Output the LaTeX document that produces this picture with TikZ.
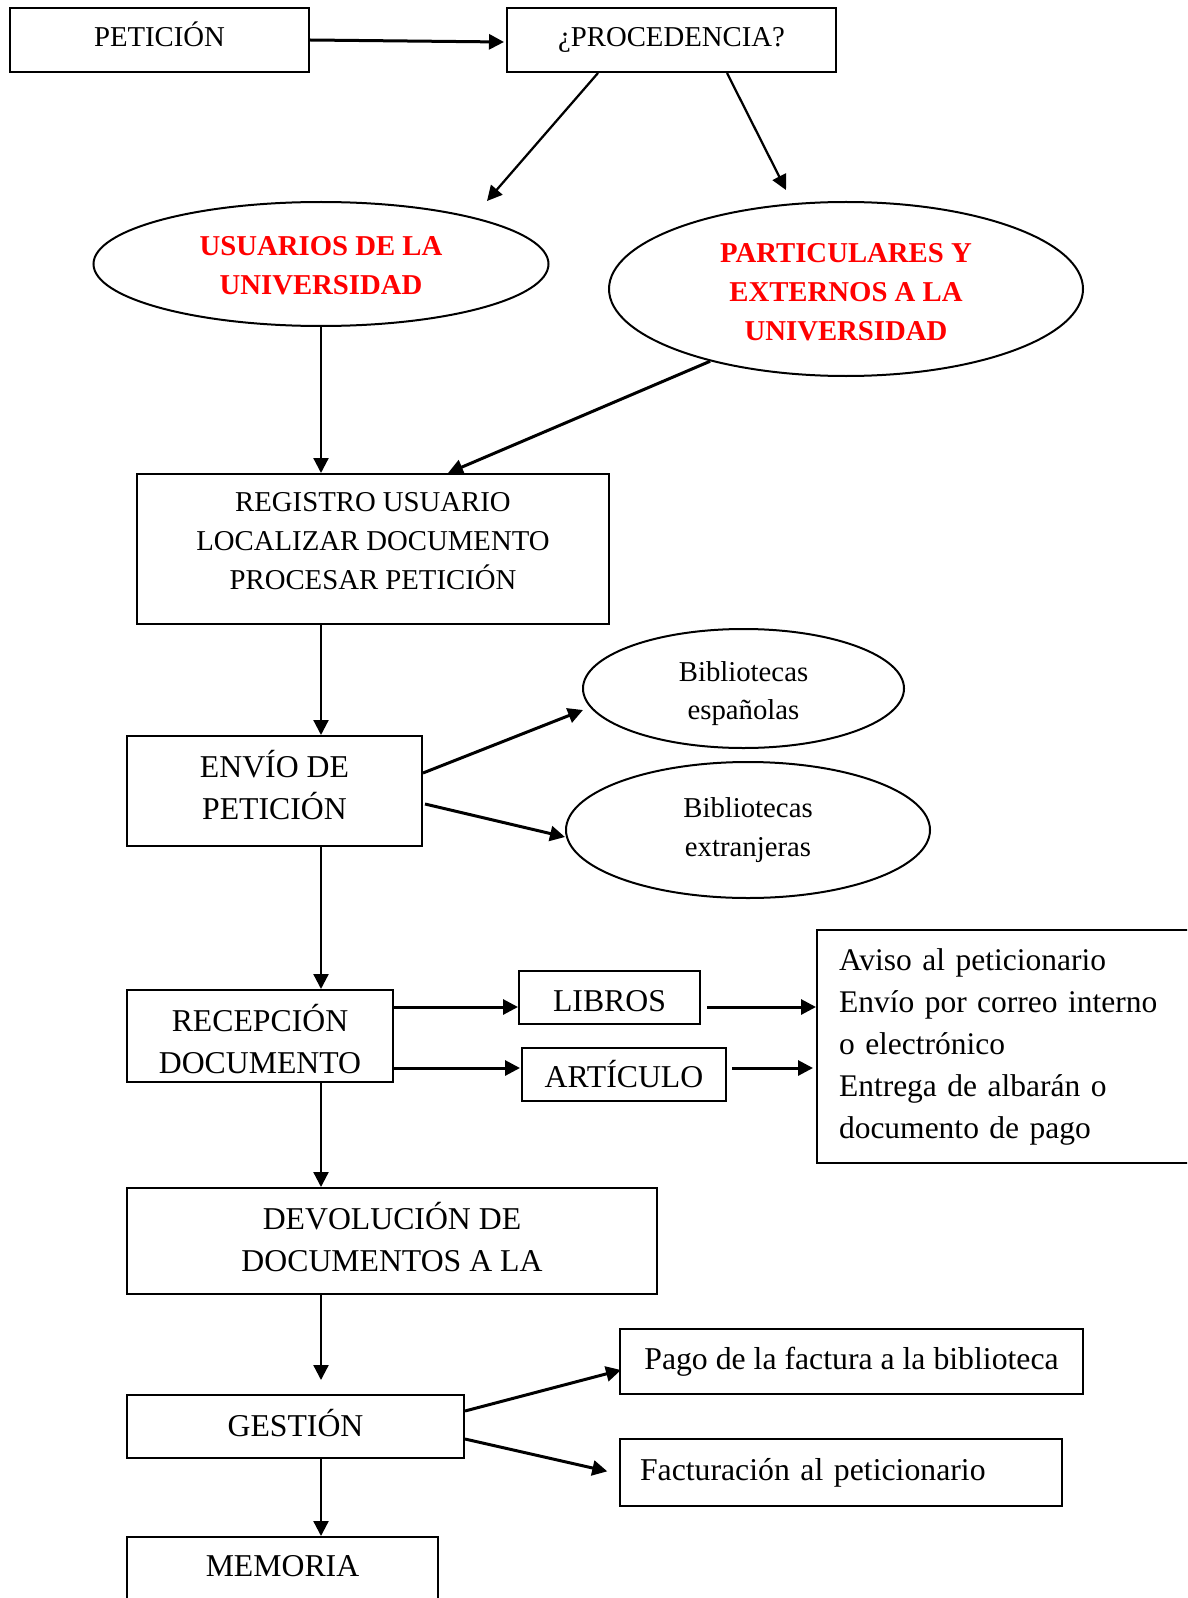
\documentclass[tikz,border=0pt]{standalone}
\usepackage{fontspec}
\setmainfont{Liberation Serif}
\usetikzlibrary{arrows.meta,calc,shapes.geometric}
\newcommand{\fsmall}{\fontsize{11.5}{15.5}\selectfont}
\newcommand{\flarge}{\fontsize{12.7}{16.7}\selectfont}
% struts to nudge the text inside a fixed box
\newcommand{\lift}[1]{\rule[-#1]{0pt}{0pt}}
\newcommand{\drop}[1]{\rule{0pt}{#1}}
\tikzset{
	flow chart/.style={
		x=0.4pt, y=-0.4pt,
		line width=0.8pt,
		ar/.style={-{Triangle[length=6pt,width=6pt]}, line width=0.9pt},
		ar thick/.style={ar, line width=1.2pt},
		},
	bb size/.style 2 args={minimum width=#1*0.4pt, minimum height=#2*0.4pt},
	bx/.style={draw, rectangle, inner sep=0pt, align=center, font=\flarge},
	bx small/.style={bx, font=\fsmall},
	bx left/.style={bx, align=left, inner xsep=#1*0.4pt},
	el/.style={draw, ellipse, inner sep=0pt, align=center, font=\fsmall},
	el red/.style={el, font=\fsmall\bfseries, text=red}
}

\begin{document}
\begin{tikzpicture}[flow chart]
	\useasboundingbox (0,0) rectangle (1187,1598);
	\clip (0,0) rectangle (1187,1598);
	% top row and the two kinds of user
	\node[bx small, bb size={299}{64}] (pet) at (159.5,40) {PETICIÓN\lift{4.8pt}};
	\node[bx small, bb size={329}{64}] (proc) at (671.5,40) {¿PROCEDENCIA?};
	\node[el red, bb size={455}{124}] (usu) at (321,264) {\drop{9.2pt}USUARIOS DE LA\\UNIVERSIDAD};
	\node[el red, bb size={474}{174}, font=\fontsize{11.5}{15.7}\selectfont\bfseries] (part) at (846,289)
		{\drop{10pt}PARTICULARES Y\\EXTERNOS A LA\\UNIVERSIDAD};
	\coordinate (usuTip) at (487,201);
	\coordinate (partTip) at (786,190);
	% main column
	\node[bx small, bb size={472}{150}] (reg) at (373,549)
		{REGISTRO USUARIO\\LOCALIZAR DOCUMENTO\\PROCESAR PETICIÓN\lift{6.4pt}};
	\node[bx, bb size={295}{110}] (env) at (274.5,791) {ENVÍO DE\\PETICIÓN\lift{4.8pt}};
	\node[el, bb size={321}{119}] (esp) at (743.5,688.5) {\drop{12pt}Bibliotecas\\españolas};
	\node[el, bb size={364}{136}] (ext) at (748,830) {Bibliotecas\\extranjeras};
	\coordinate (espTip) at (583,710);
	\node[bx, bb size={266}{92}] (rec) at (260,1036) {\drop{13.6pt}RECEPCIÓN\\DOCUMENTO};
	\node[bx, bb size={181}{53}] (lib) at (609.5,997.5) {\drop{11.6pt}LIBROS};
	\node[bx, bb size={204}{53}] (art) at (624,1074.5) {ARTÍCULO};
	\node[bx left=22, bb size={388}{233}, text width=344*0.4pt, font=\fontsize{12.6}{16.8}\selectfont] (avi) at (1011,1046.5)
		{Aviso al peticionario\\Envío por correo interno\\o electrónico\\Entrega de albarán o\\documento de pago};
	\node[bx, bb size={530}{106}] (dev) at (392,1241) {DEVOLUCIÓN DE\\DOCUMENTOS A LA\lift{3.2pt}};
	\node[bx, bb size={337}{63}] (ges) at (295.5,1426.5) {GESTIÓN\lift{3.2pt}};
	\node[bx, bb size={463}{65}] (pago) at (851.5,1361.5) {Pago de la factura a la biblioteca};
	\node[bx left=20, bb size={442}{67}, text width=402*0.4pt] (fac) at (841,1472.5)
		{Facturación al peticionario};
	\node[bx, anchor=base, minimum width=311*0.4pt, text height=15.6pt, text depth=30pt] (mem) at (282.5,1576) {MEMORIA};

	\draw[ar thick] (pet.east) -- ($(proc.west)+(-2,2)$);
	\draw[ar] ($(proc.south)+(-73.5,0)$) -- (usuTip);
	\draw[ar] ($(proc.south)+(55.5,0)$) -- (partTip);
	\draw[ar] (usu.south) -- (usu.south |- reg.north);
	\draw[ar thick] (part.208) -- ($(reg.north)+(75,0)$);
	\draw[ar] (usu.south |- reg.south) -- (usu.south |- env.north);
	\draw[ar thick] ($(env.east)+(0,-18)$) -- (espTip);
	\draw[ar thick] ($(env.east)+(2,13)$) -- ($(ext.west)+(0,7)$);
	\draw[ar] (usu.south |- env.south) -- (usu.south |- rec.north);
	\draw[ar thick] ($(rec.east)+(0,-29)$) -- ($(lib.west)+(0,9.5)$);
	\draw[ar thick] ($(rec.east)+(0,32)$) -- ($(art.west)+(-1,-6.5)$);
	\draw[ar thick] ($(lib.east)+(6,9.5)$) -- ($(avi.west)+(0,-39.5)$);
	\draw[ar thick] ($(art.east)+(5,-6.5)$) -- ($(avi.west)+(-3,21.5)$);
	\draw[ar] (usu.south |- rec.south) -- (usu.south |- dev.north);
	\draw[ar, shorten >=5.6pt] (usu.south |- dev.south) -- (usu.south |- ges.north);
	\draw[ar thick] ($(ges.east)+(0,-15.5)$) -- ($(pago.west)+(2,8.5)$);
	\draw[ar thick, shorten >=4.8pt] ($(ges.east)+(0,12.5)$) -- ($(fac.west)+(0,1.5)$);
	\draw[ar] (usu.south |- ges.south) -- (usu.south |- mem.north);
\end{tikzpicture}
\end{document}
